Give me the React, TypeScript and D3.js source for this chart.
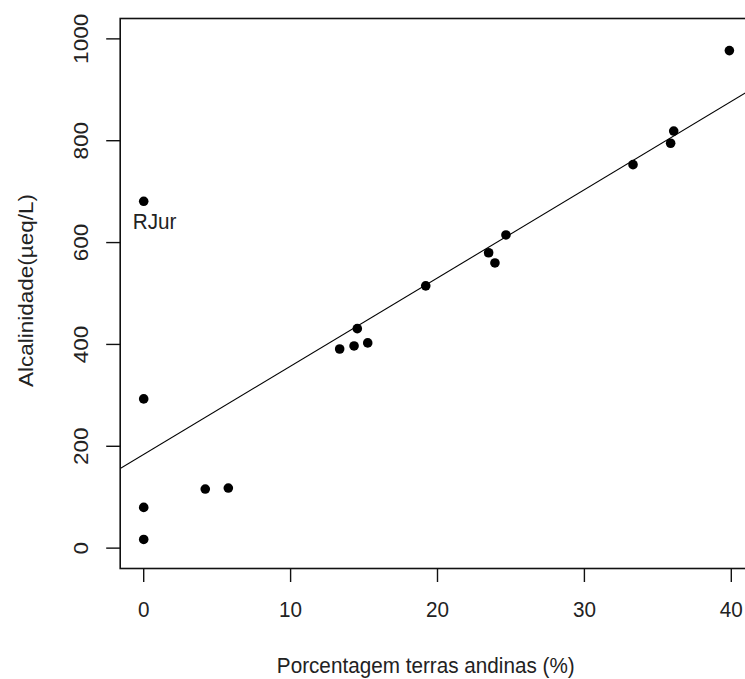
import React from "react";
import * as d3 from "d3";

const pctAndes = [0, 0, 0, 0, 4.19, 5.76, 13.34, 14.32, 15.25, 14.54, 19.2, 23.48, 23.91, 24.66, 33.31, 35.87, 36.08, 39.87];
const alcalinidade = [681, 293, 80, 17, 116, 118, 391, 397, 403, 431, 515, 580, 560, 615, 753, 795, 819, 977];
const pointLabels = ["RJur", "", "", "", "", "", "", "", "", "", "", "", "", "", "", "", "", ""];
const xTicks = [0, 10, 20, 30, 40];
const yTicks = [0, 200, 400, 600, 800, 1000];
const fitIntercept = 184;
const fitSlope = 17.33;
const xTitle = "Porcentagem terras andinas (%)";
const yTitle = "Alcalinidade(µeq/L)";

const W = 745;
const H = 679;
const FONT = "'Liberation Sans', Arial, sans-serif";
const TXT = "#222";
const FS = 22.5;
const SX = 0.92;

export default function App() {
  const x = d3.scaleLinear().domain([-1.6, 41.6]).range([120.2, 754.8]);
  const y = d3.scaleLinear().domain([-40, 1040]).range([568.5, 18.5]);
  const [x0, x1] = x.range();
  const [yb, yt] = y.range();
  const line = d3.line<number>().x((d) => x(d)).y((d) => y(fitIntercept + fitSlope * d));
  const fitPath = line([-1.6, 41.6]) || "";

  const hText = (key: string, tx: number, ty: number, s: string, anchor: string) => (
    <text key={key} transform={`translate(${tx}, ${ty}) scale(${SX}, 1)`} textAnchor={anchor} fontSize={FS} fill={TXT}>
      {s}
    </text>
  );
  const vText = (key: string, tx: number, ty: number, s: string) => (
    <text key={key} transform={`translate(${tx}, ${ty}) scale(${SX}, 1) rotate(-90)`} textAnchor="middle" fontSize={FS} fill={TXT}>
      {s}
    </text>
  );

  return (
    <div style={{ position: "absolute", left: 0, top: 0, width: W, height: H, background: "#fff" }}>
      <svg width={W} height={H} style={{ display: "block" }} fontFamily={FONT}>
        <rect x={0} y={0} width={W} height={H} fill="#fff" />
        <defs>
          <clipPath id="plotclip">
            <rect x={x0} y={yt} width={x1 - x0} height={yb - yt} />
          </clipPath>
        </defs>
        <path d={fitPath} stroke="#000" strokeWidth={1.1} fill="none" clipPath="url(#plotclip)" />
        {pctAndes.map((v, i) => (
          <circle key={i} cx={x(v)} cy={y(alcalinidade[i])} r={4.8} fill="#000" />
        ))}
        {pointLabels.map((lab, i) =>
          lab ? hText("l" + i, x(pctAndes[i]) - 11, y(alcalinidade[i]) + 28, lab, "start") : null
        )}
        <rect x={x0} y={yt} width={x1 - x0} height={yb - yt} fill="none" stroke="#111" strokeWidth={1.6} />
        {xTicks.map((t) => (
          <g key={"xt" + t}>
            <line x1={x(t)} x2={x(t)} y1={yb} y2={yb + 13.5} stroke="#111" strokeWidth={1.4} />
            {hText("xl" + t, x(t), 617, String(t), "middle")}
          </g>
        ))}
        {yTicks.map((t) => (
          <g key={"yt" + t}>
            <line x1={x0 - 14} x2={x0} y1={y(t)} y2={y(t)} stroke="#111" strokeWidth={1.4} />
            {vText("yl" + t, 88, y(t), String(t))}
          </g>
        ))}
        {hText("xtitle", (x0 + x(40)) / 2, 673, xTitle, "middle")}
        {vText("ytitle", 33, (yb + yt) / 2 - 3, yTitle)}
      </svg>
    </div>
  );
}
